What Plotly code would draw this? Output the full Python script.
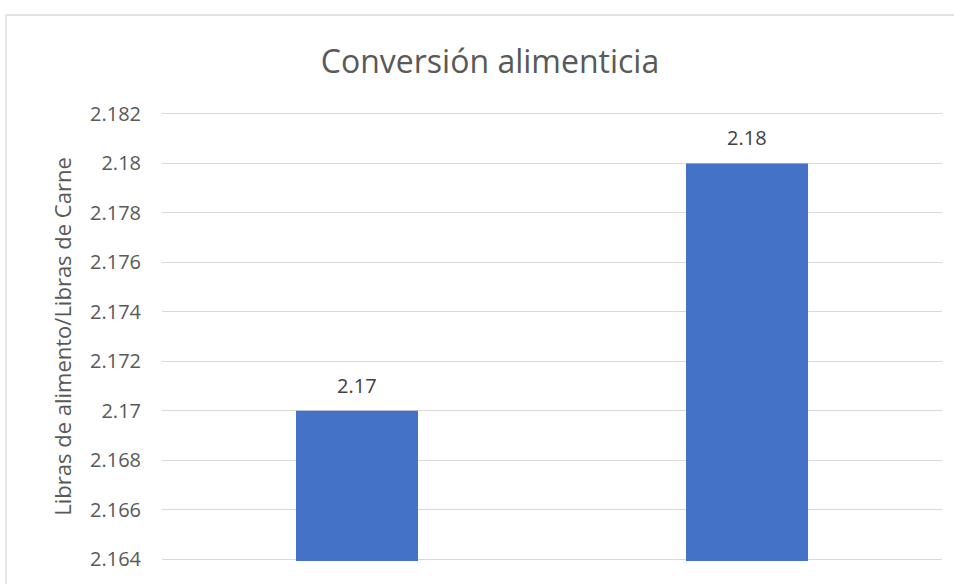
import plotly.graph_objects as go

categories = ["Tratamiento 1", "Tratamiento 2"]
values = [2.17, 2.18]
tick_vals = [2.164, 2.166, 2.168, 2.170, 2.172, 2.174, 2.176, 2.178, 2.180, 2.182]
tick_text = ["2.164", "2.166", "2.168", "2.17", "2.172", "2.174", "2.176", "2.178", "2.18", "2.182"]
title_text = "Conversión alimenticia"
y_title = "Libras de alimento/Libras de Carne"

W, H = 954, 584
ML, MR, MT, MB = 162, 12, 112, 23
pw = W - ML - MR
ph = H - MT - MB

def px_x(p):
    return (p - ML) / pw

def px_y(p):
    return (H - MB - p) / ph

FONT = "Open Sans"
GRAY = "#595959"

fig = go.Figure()
fig.add_trace(go.Bar(
    x=categories, y=values,
    marker=dict(color="#4472C4", line=dict(width=0)),
))

annotations = [
    dict(x=c, y=v, xref="x", yref="y", text=f"{v:g}", showarrow=False,
         yanchor="bottom", yshift=10,
         font=dict(family=FONT, size=20, color="#404040"))
    for c, v in zip(categories, values)
]

fig.update_layout(
    width=W, height=H,
    margin=dict(l=ML, r=MR, t=MT, b=MB),
    paper_bgcolor="white", plot_bgcolor="white",
    showlegend=False,
    bargap=0.687,
    title=dict(text=title_text, x=490 / W, xanchor="center",
               y=1 - 62 / H, yanchor="middle",
               font=dict(family=FONT, size=32, color=GRAY)),
    font=dict(family=FONT, color=GRAY),
    xaxis=dict(showticklabels=False, showgrid=False, zeroline=False,
               showline=False, ticks=""),
    yaxis=dict(range=[2.16392, 2.18208], tickvals=tick_vals, ticktext=tick_text,
               showgrid=True, gridcolor="#D9D9D9", gridwidth=1.3,
               zeroline=False, showline=False, ticks="",
               ticklabelstandoff=20,
               tickfont=dict(family=FONT, size=20, color=GRAY),
               title=dict(text=y_title, standoff=12,
                          font=dict(family=FONT, size=22, color=GRAY))),
    annotations=annotations,
    shapes=[
        dict(type="line", xref="paper", yref="paper",
             x0=px_x(6), x1=px_x(6), y0=px_y(15), y1=px_y(600),
             line=dict(color="#D9D9D9", width=1.3)),
        dict(type="line", xref="paper", yref="paper",
             x0=px_x(6), x1=px_x(970), y0=px_y(15), y1=px_y(15),
             line=dict(color="#D9D9D9", width=1.3)),
    ],
)

fig.write_html("out.html", config={"displayModeBar": False},
               post_script="document.body.style.margin='0';document.body.style.overflow='hidden';")
